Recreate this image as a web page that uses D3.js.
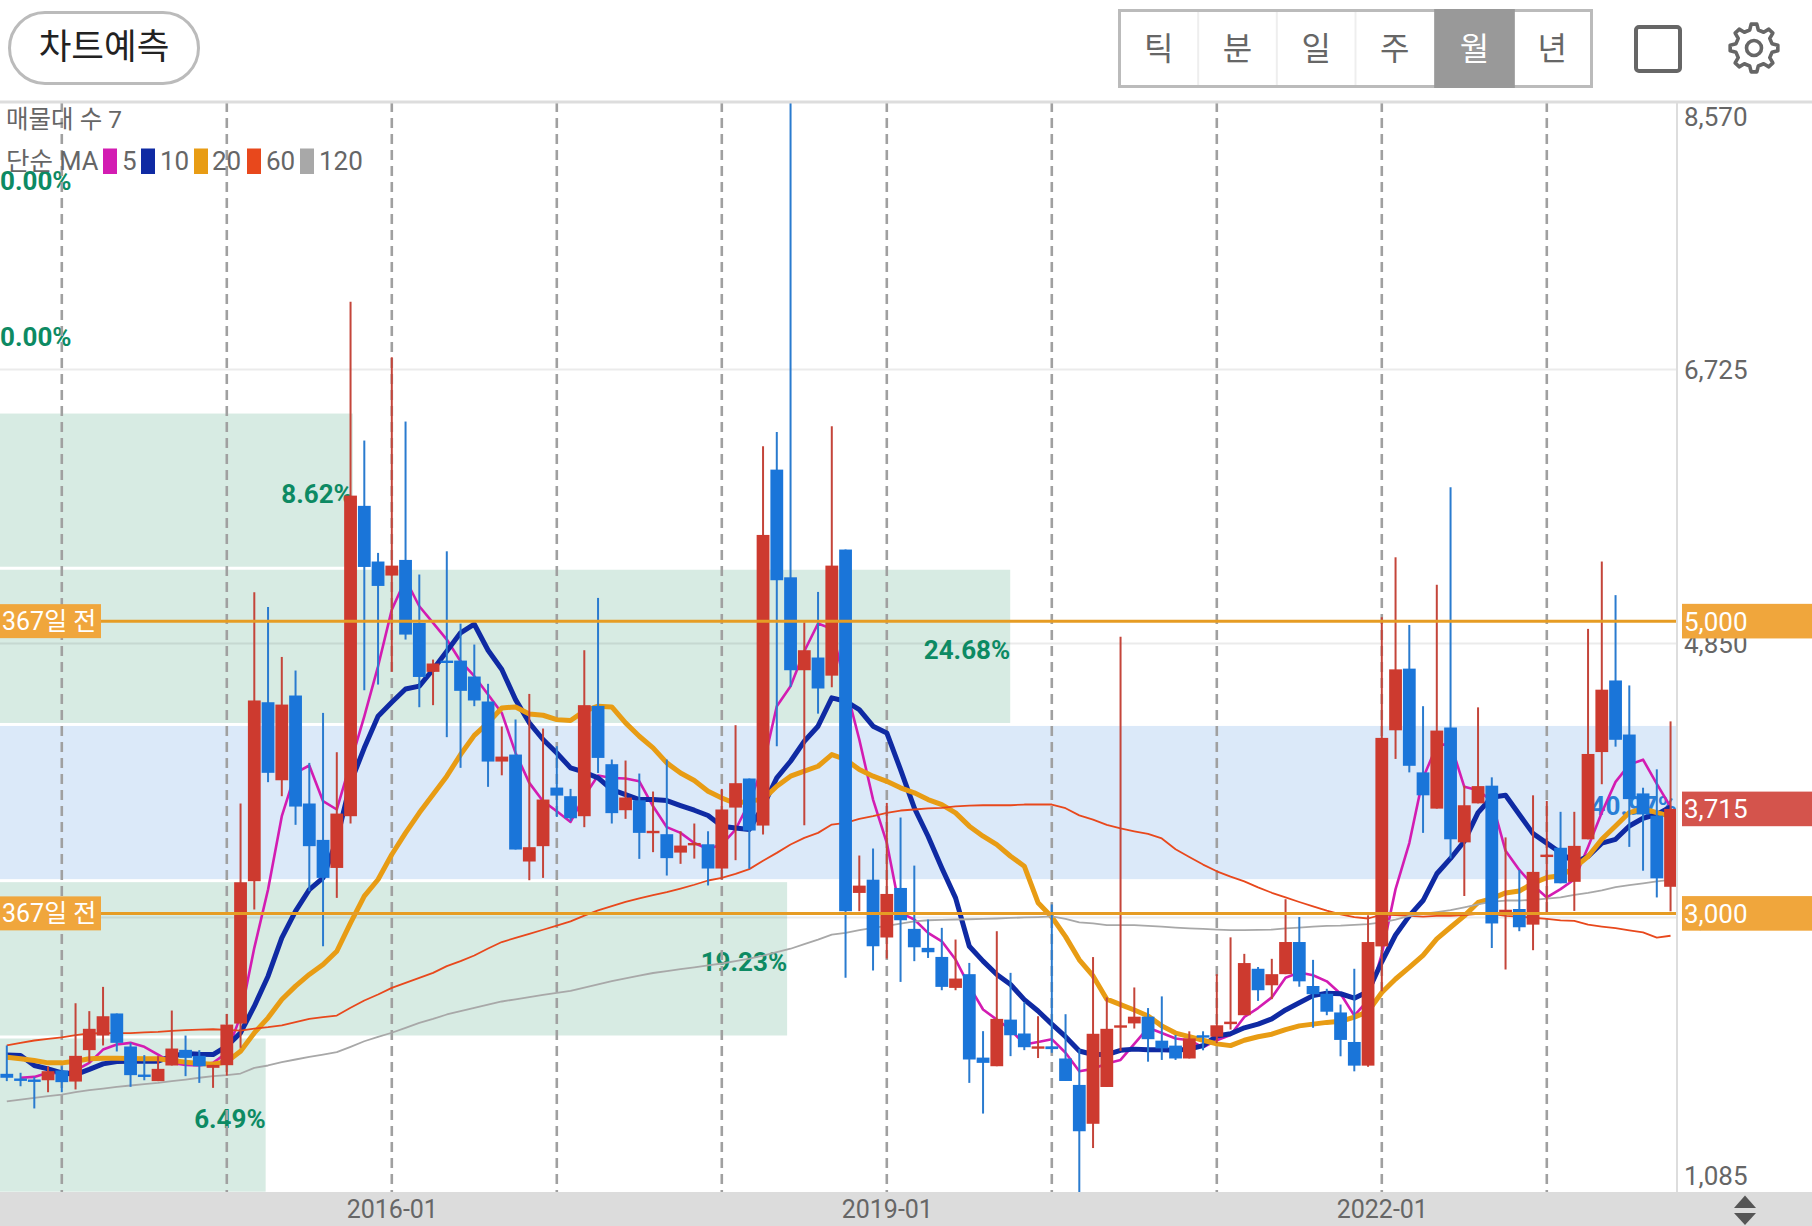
<!DOCTYPE html>
<html lang="ko">
<head>
<meta charset="UTF-8">
<title>월봉 차트</title>
<script src="https://d3js.org/d3.v7.min.js"></script>
<style>
  html, body { margin: 0; padding: 0; background: #fff; }
  svg { display: block; }
  text { font-family: Roboto, "Noto Sans CJK KR", sans-serif; }
</style>
</head>
<body>
<script>
// monthly candles, first one is 2013-09
let openVals = [1902,1870,1863,1858,1925,1849,2064,2164,2315,2089,1897,1852,1959,2066,2025,1943,1961,2246,3220,4445,3911,4491,3752,3503,3311,3665,5789,5408,5312,5419,4988,4653,4730,4730,4621,4450,4039,4087,3355,3460,3861,3802,3665,4420,4021,3706,3774,3549,3542,3416,3471,3473,3307,3724,3923,3601,6037,5300,4664,4751,4627,5490,3140,3231,2835,3174,2894,2764,2702,2490,2584,2013,1954,2273,2178,2076,2090,2007,1826,1560,1812,2220,2247,2293,2129,2095,2007,2166,2156,2242,2303,2621,2508,2584,2804,2503,2450,2322,2120,1958,2774,4253,4675,3965,3717,4272,3486,3753,3874,3009,3030,2923,3389,3449,3216,3507,4104,4594,4224,3821,3669,3182];
let highVals = [2096,1909,1881,1954,1954,2385,2331,2497,2315,2114,2030,2023,2335,2164,2064,1963,2312,3752,5198,5097,4755,4662,4030,4372,4103,7185,6236,5467,6806,6366,5319,4737,5478,4983,4840,4571,4279,4327,4502,4265,4144,3852,4801,5159,4053,4046,3957,3834,4053,3562,3615,3562,3852,4288,3923,6197,6295,8570,4992,5200,6334,5490,3396,3444,3756,3656,3327,2958,2901,2821,2661,2194,2878,2593,2392,2296,3061,2310,2071,2701,2425,4894,2493,2352,2432,2168,2193,2193,2584,2836,2723,2633,2689,3097,2975,2682,2484,2376,2621,2987,5026,5437,4974,4418,5249,5916,3874,4410,3931,3520,3297,3808,3769,3695,3695,4947,5408,5178,4560,3860,3986,4314];
let lowVals = [1852,1817,1665,1776,1776,1795,1977,2096,2055,1813,1858,1852,1959,1886,1840,1806,1890,2080,3026,3898,3802,3606,3152,2775,3106,3615,4527,4566,4653,4874,4411,4425,4206,3996,4418,3866,3945,3437,3227,3243,3660,3631,3590,3961,3615,3647,3373,3419,3259,3339,3375,3191,3232,3364,3305,3539,4144,4550,3603,4367,4548,2559,3015,2609,2691,2531,2673,2695,2474,2474,1840,1630,1954,2023,2064,2010,2046,1853,1085,1394,1812,2058,2212,1985,1997,1997,2007,2063,2112,2205,2303,2401,2413,2584,2498,2217,2303,2022,1919,1950,2467,4057,3965,3551,3717,3376,3119,3753,2763,2616,2878,2748,3009,3206,3017,3507,3884,4141,3455,3292,3109,3014];
let closeVals = [1875,1858,1854,1920,1845,2025,2210,2296,2114,1893,1884,1936,2075,2011,1954,1963,2239,3213,4457,3962,4429,3731,3460,3243,3683,5859,5371,5241,5380,4908,4618,4710,4721,4523,4457,4039,4073,3437,3453,3779,3806,3651,4425,4064,3686,3793,3551,3565,3378,3464,3482,3307,3711,3891,3567,5590,5280,4664,4801,4539,5380,3015,3190,2775,3133,2953,2768,2734,2497,2554,2000,1977,2278,2166,2084,2090,2071,1853,1509,2176,2210,2234,2293,2139,2076,2007,2144,2154,2234,2259,2660,2474,2584,2804,2535,2447,2327,2134,1958,2804,4201,4670,4010,3808,4251,3507,3740,3871,2931,3025,2905,3284,3402,3206,3462,4091,4531,4188,3782,3677,3240,3715];

let ma5 = [null,1875,1881,1909,1905,1925,1977,2068,2103,2114,2087,2034,1977,1963,1959,1977,2046,2297,2764,3163,3665,3962,4012,3768,3711,4030,4349,4691,5079,5285,5102,4988,4874,4726,4623,4498,4372,4098,3893,3768,3699,3626,3802,3943,3927,3923,3904,3733,3590,3551,3482,3441,3471,3574,3760,4007,4418,4555,4794,4984,4947,4555,4190,3779,3483,3003,2958,2867,2809,2684,2502,2342,2273,2205,2103,2120,2139,2046,1919,1936,1973,1997,2107,2217,2181,2144,2132,2083,2132,2168,2291,2352,2425,2559,2596,2577,2535,2450,2300,2407,2721,3166,3481,3926,4148,4162,3866,3842,3769,3428,3297,3193,3109,3166,3232,3454,3690,3900,4018,4052,3887,3729];
let ma10 = [2030,2027,1959,1936,1909,1897,1932,1970,1986,1988,1988,1988,2023,2041,2036,2034,2091,2182,2365,2570,2832,3015,3163,3243,3505,3893,4133,4349,4445,4536,4555,4669,4794,4920,4979,4801,4669,4463,4304,4190,4098,3996,3966,3927,3847,3813,3779,3779,3772,3738,3706,3670,3597,3585,3574,3733,3927,4041,4178,4281,4475,4452,4395,4281,4235,3984,3722,3528,3311,3106,2775,2673,2582,2513,2410,2332,2242,2156,2058,2034,2034,2063,2071,2066,2066,2063,2071,2095,2161,2176,2217,2242,2278,2339,2388,2437,2454,2450,2420,2465,2669,2852,2983,3088,3271,3376,3494,3690,3795,3808,3677,3546,3481,3415,3350,3389,3481,3507,3598,3651,3677,3729];
let ma20 = [2016,2005,1993,1977,1977,1988,2005,2009,2009,2007,2005,2005,1993,1982,1973,1968,1985,2057,2182,2285,2411,2502,2582,2650,2741,2935,3118,3232,3403,3551,3688,3813,3939,4087,4218,4304,4406,4413,4365,4356,4326,4320,4384,4418,4413,4304,4212,4133,4030,3961,3909,3836,3790,3752,3770,3779,3870,3939,3973,4007,4087,4053,3984,3939,3904,3859,3825,3779,3745,3688,3597,3528,3471,3391,3323,3073,2975,2841,2682,2572,2413,2376,2339,2298,2230,2181,2156,2132,2107,2095,2132,2156,2173,2205,2230,2242,2254,2261,2290,2328,2459,2551,2630,2713,2826,2905,2983,3075,3101,3140,3153,3206,3245,3258,3311,3389,3507,3598,3690,3716,3690,3664];
let ma60 = [2096,2114,2130,2141,2151,2167,2178,2180,2180,2180,2185,2189,2196,2201,2205,2207,2203,2198,2212,2221,2233,2255,2278,2290,2301,2354,2404,2445,2490,2525,2559,2593,2639,2673,2712,2760,2804,2832,2860,2888,2916,2945,2985,3020,3050,3079,3103,3125,3146,3170,3196,3225,3243,3270,3303,3360,3414,3471,3517,3551,3608,3619,3647,3665,3688,3704,3711,3718,3722,3733,3738,3740,3740,3740,3745,3745,3745,3720,3671,3642,3606,3581,3562,3544,3513,3439,3386,3334,3288,3251,3219,3178,3141,3109,3078,3048,3019,2994,2975,2965,2991,2988,2983,2978,2983,2983,2988,2996,2996,2983,2978,2970,2962,2952,2949,2923,2910,2899,2884,2870,2834,2847];
let ma120 = [1713,1726,1738,1749,1760,1776,1790,1801,1813,1822,1831,1840,1852,1863,1875,1886,1893,1904,1943,1959,1982,2000,2018,2034,2050,2087,2125,2155,2183,2217,2251,2278,2308,2331,2353,2375,2397,2412,2427,2442,2456,2469,2492,2514,2536,2555,2574,2592,2605,2618,2631,2644,2657,2674,2691,2711,2735,2758,2790,2821,2855,2867,2885,2901,2915,2930,2946,2953,2955,2958,2960,2962,2965,2969,2972,2975,2980,2963,2938,2931,2919,2919,2919,2914,2909,2902,2897,2894,2889,2885,2885,2887,2889,2897,2902,2909,2914,2916,2921,2926,2938,2957,2983,2996,3009,3022,3041,3062,3080,3088,3088,3093,3101,3109,3127,3140,3158,3179,3193,3206,3219,3229];

let maNames = ["5","10","20","60","120"];
let maColors = ["#d31cb2","#0f2aa3","#e89c14","#e8481c","#a8a8a8"];
let maSeries = [ma5, ma10, ma20, ma60, ma120];
let maWidths = [2.6, 5, 5, 1.8, 1.8];

// volume profile (매물대), price edges and share of each band
let bandEdges = [8570,7501,6431,5362,4293,3224,2154,1085];
let bandPct = [0,0,8.62,24.68,40.97,19.23,6.49];
let maxBand = 4;

let priceTicks = [8570,6725,4850,2975,1085];
let gridTicks = [6725,4850,2975];
let labelledMonths = ["2016-01","2019-01","2022-01"];
let tabs = ["틱","분","일","주","월","년"];
let hLines = [5000,3000];

let width = 1812, height = 1226;
let axisX = 1677, topY = 102, bottomY = 1192;

let parse = d3.timeFormat("%Y-%m");
let months = d3.timeMonth.range(new Date(2013, 8, 1), new Date(2023, 10, 1)).map(parse);

let x = d3.scalePoint().domain(months).range([6.8, 1670.55]);
let y = d3.scaleLinear().domain([1085, 8570]).range([1193.2, 99.5]);
let bandX = d3.scaleLinear().domain([0, bandPct[maxBand]]).range([0, axisX]);

let svg = d3.select("body").append("svg").attr("width", width).attr("height", height);
svg.append("rect").attr("width", width).attr("height", height).attr("fill", "#fff");

// bands
let bands = bandPct.map((p, i) => ({ p: p, top: bandEdges[i], bottom: bandEdges[i + 1], i: i }));
svg.append("g").selectAll("rect").data(bands).enter().append("rect")
    .attr("x", 0)
    .attr("y", d => y(d.top) + 1.5)
    .attr("width", d => bandX(d.p))
    .attr("height", d => y(d.bottom) - y(d.top) - 3)
    .attr("fill", d => d.i == maxBand ? "#dbe9f9" : "#d7ebe3");

// grid
let grid = svg.append("g").attr("transform", "translate(" + axisX + ",0)")
    .call(d3.axisLeft(y).tickValues(gridTicks).tickSize(axisX).tickFormat(""));
grid.select(".domain").remove();
grid.selectAll("line").attr("stroke", "#000").attr("stroke-opacity", 0.08).attr("stroke-width", 2);

// band percentages sit under the candles
svg.append("g").selectAll("text").data(bands).enter().append("text")
    .attr("x", d => d.p == 0 ? 0 : bandX(d.p))
    .attr("y", d => (y(d.top) + y(d.bottom)) / 2 + 12.5)
    .attr("text-anchor", d => d.p == 0 ? "start" : "end")
    .attr("font-size", 26)
    .attr("font-weight", 700)
    .attr("fill", d => d.i == maxBand ? "#2a7fd6" : "#0d8a63")
    .text(d => d.p.toFixed(2) + "%");

// january dashes
let januaries = months.filter(m => m.endsWith("-01"));
svg.append("g").selectAll("line").data(januaries).enter().append("line")
    .attr("x1", d => x(d)).attr("x2", d => x(d))
    .attr("y1", topY).attr("y2", bottomY)
    .attr("stroke", "#a0a0a0").attr("stroke-width", 2.6)
    .attr("stroke-dasharray", "10 6");

// moving averages, longest drawn last
let maLine = d3.line()
    .defined(d => d != null)
    .x((d, i) => x(months[i]))
    .y(d => y(d));
maSeries.forEach((s, i) => {
    svg.append("path").datum(s)
        .attr("d", maLine)
        .attr("fill", "none")
        .attr("stroke", maColors[i])
        .attr("stroke-width", maWidths[i])
        .attr("stroke-linejoin", "round");
});

// candles
let upColor = "#cd3a2f", downColor = "#1a75d9";
let candles = months.map((m, i) => ({ m: m, o: openVals[i], h: highVals[i], l: lowVals[i], c: closeVals[i] }));
let cg = svg.append("g");
cg.selectAll("line").data(candles).enter().append("line")
    .attr("x1", d => x(d.m)).attr("x2", d => x(d.m))
    .attr("y1", d => y(d.h)).attr("y2", d => y(d.l))
    .attr("stroke", d => d.c >= d.o ? "#c4453a" : "#2a7bcf")
    .attr("stroke-width", 2);
cg.selectAll("rect").data(candles).enter().append("rect")
    .attr("x", d => x(d.m) - 6.4)
    .attr("y", d => y(Math.max(d.o, d.c)))
    .attr("width", 12.8)
    .attr("height", d => Math.max(2.4, Math.abs(y(d.o) - y(d.c))))
    .attr("fill", d => d.c >= d.o ? upColor : downColor);

// 367 days ago price lines
svg.append("g").selectAll("line").data(hLines).enter().append("line")
    .attr("x1", 0).attr("x2", axisX)
    .attr("y1", d => y(d)).attr("y2", d => y(d))
    .attr("stroke", "#e69c24").attr("stroke-width", 3);

let leftTags = svg.append("g").selectAll("g").data(hLines).enter().append("g");
leftTags.append("rect")
    .attr("x", 0).attr("y", d => y(d) - 17)
    .attr("width", 101).attr("height", 34)
    .attr("fill", "#f0a63c");
leftTags.append("text")
    .attr("x", 2).attr("y", d => y(d) + 9)
    .attr("font-size", 25).attr("fill", "#fff")
    .text("367일 전");

// top header and bottom strip cover wicks that run off the plot
svg.append("rect").attr("width", width).attr("height", topY).attr("fill", "#fff");
svg.append("rect").attr("y", topY - 1.5).attr("width", width).attr("height", 3).attr("fill", "#dddddd");
svg.append("rect").attr("y", bottomY).attr("width", width).attr("height", height - bottomY).attr("fill", "#dcdcdc");
svg.append("line").attr("x1", axisX).attr("x2", axisX).attr("y1", topY).attr("y2", bottomY)
    .attr("stroke", "#dddddd").attr("stroke-width", 2);

// axes
let xAxis = svg.append("g").attr("transform", "translate(0," + bottomY + ")")
    .call(d3.axisBottom(x).tickValues(labelledMonths).tickSize(0).tickPadding(8));
xAxis.select(".domain").remove();
xAxis.selectAll("text").attr("font-size", 25).attr("fill", "#666")
    .style("font-family", "Roboto, sans-serif");

let yAxis = svg.append("g").attr("transform", "translate(" + axisX + ",0)")
    .call(d3.axisRight(y).tickValues(priceTicks).tickSize(0).tickPadding(7).tickFormat(d3.format(",")));
yAxis.select(".domain").remove();
yAxis.selectAll("text").attr("font-size", 26).attr("fill", "#666")
    .style("font-family", "Roboto, sans-serif")
    .attr("dy", d => d == 8570 ? "1em" : d == 1085 ? "-0.35em" : "0.35em");

// right tags
let rightTags = [
    { v: 5000, fill: "#f0a63c" },
    { v: 3000, fill: "#f0a63c" },
    { v: closeVals[closeVals.length - 1], fill: "#d4544c" }
];
let rt = svg.append("g").selectAll("g").data(rightTags).enter().append("g");
rt.append("rect")
    .attr("x", 1682).attr("y", d => y(d.v) - 17.3)
    .attr("width", width - 1682).attr("height", 34.6)
    .attr("fill", d => d.fill);
rt.append("text")
    .attr("x", 1684).attr("y", d => y(d.v) + 9.5)
    .attr("font-size", 26).attr("fill", "#fff")
    .text(d => d3.format(",")(d.v));

// legend
svg.append("text").attr("x", 6).attr("y", 128).attr("font-size", 24.5).attr("fill", "#666").text("매물대 수 7");
svg.append("text").attr("x", 6).attr("y", 170).attr("font-size", 25.5).attr("fill", "#666").text("단순 MA");
let swatchX = [103, 141, 194, 247, 300];
let legendTextX = [122, 160, 212, 266, 319];
maNames.forEach((n, i) => {
    svg.append("rect").attr("x", swatchX[i]).attr("y", 148.5).attr("width", 14).attr("height", 25.5).attr("fill", maColors[i]);
    svg.append("text").attr("x", legendTextX[i]).attr("y", 170).attr("font-size", 26).attr("fill", "#666").text(n);
});

// toolbar
svg.append("rect").attr("x", 9.5).attr("y", 12.5).attr("width", 189).attr("height", 71).attr("rx", 35.5)
    .attr("fill", "#fff").attr("stroke", "#bbb").attr("stroke-width", 3);
svg.append("text").attr("x", 104).attr("y", 59).attr("text-anchor", "middle")
    .attr("font-size", 35.5).attr("fill", "#222").text("차트예측");

let tabX = d3.scaleBand().domain(tabs).range([1119.5, 1591.5]);
svg.append("rect").attr("x", 1119.5).attr("y", 10.5).attr("width", 472).attr("height", 76)
    .attr("fill", "#fff").attr("stroke", "#bbb").attr("stroke-width", 3);
tabs.forEach((t, i) => {
    let on = t == "월";
    if (on) svg.append("rect").attr("x", tabX(t)).attr("y", 9).attr("width", tabX.bandwidth() + 2).attr("height", 79).attr("fill", "#999");
    else if (i > 0 && tabs[i - 1] != "월") svg.append("line").attr("x1", tabX(t)).attr("x2", tabX(t)).attr("y1", 12).attr("y2", 85).attr("stroke", "#eee").attr("stroke-width", 2);
    svg.append("text").attr("x", tabX(t) + tabX.bandwidth() / 2 + (on ? 1 : 0)).attr("y", 60).attr("text-anchor", "middle")
        .attr("font-size", 32).attr("fill", on ? "#fff" : "#666").text(t);
});

svg.append("rect").attr("x", 1636).attr("y", 27).attr("width", 44).attr("height", 44).attr("rx", 3)
    .attr("fill", "none").attr("stroke", "#666").attr("stroke-width", 4);

// gear icon
let teeth = 8, gearPts = [];
for (let i = 0; i < teeth; i++) {
    let a = i * 2 * Math.PI / teeth, s = 2 * Math.PI / teeth;
    gearPts.push([a - s * 0.30, 18.5], [a - s * 0.15, 24], [a + s * 0.15, 24], [a + s * 0.30, 18.5]);
}
svg.append("path").attr("transform", "translate(1754,48)")
    .attr("d", d3.lineRadial().curve(d3.curveLinearClosed)(gearPts))
    .attr("fill", "none").attr("stroke", "#666").attr("stroke-width", 3.6).attr("stroke-linejoin", "round");
svg.append("circle").attr("cx", 1754).attr("cy", 48).attr("r", 7.5)
    .attr("fill", "none").attr("stroke", "#666").attr("stroke-width", 3.6);

// scroll arrows in the bottom strip
svg.append("path").attr("d", "M1745 1195.5L1756 1208L1734 1208Z").attr("fill", "#555");
svg.append("path").attr("d", "M1745 1225L1756 1213L1734 1213Z").attr("fill", "#555");
</script>
</body>
</html>
